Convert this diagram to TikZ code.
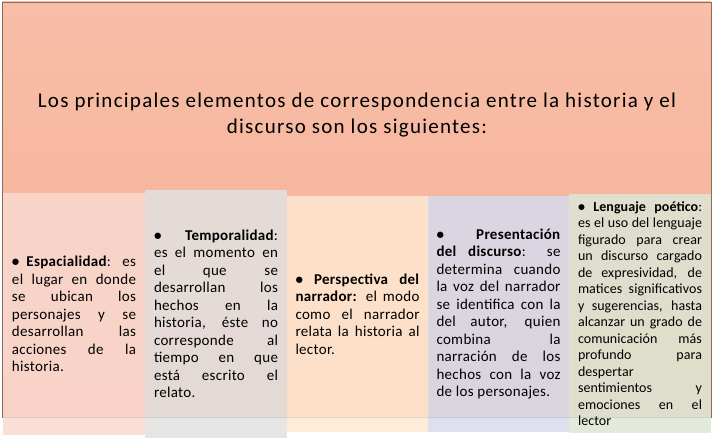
\documentclass[tikz,border=0pt]{standalone}
\usepackage{fontspec}
\setmainfont{Carlito}
\newfontfamily\titlefont[LetterSpace=6]{Carlito}
\newfontfamily\bodyfont[LetterSpace=2]{Carlito}
\newfontfamily\smallbodyfont[LetterSpace=0.5]{Carlito}
\definecolor{frametop}{HTML}{F8BEA8}
\definecolor{framebot}{HTML}{F5AF94}
\definecolor{frameline}{HTML}{8B6B5C}
\definecolor{boxA}{HTML}{F9D9D0}
\definecolor{boxB}{HTML}{E1E1E1}
\definecolor{boxC}{HTML}{FEE8D2}
\definecolor{boxD}{HTML}{D6DBEC}
\definecolor{boxE}{HTML}{DCE6D5}
\hbadness=10000

\begin{document}
\begin{tikzpicture}[x=1pt,y=-1pt]
\tikzset{
  frame/.style={draw=frameline,line width=0.9pt,top color=frametop,bottom color=framebot,
    minimum width=709pt,minimum height=415pt,inner sep=0pt},
  titletext/.style={align=center,font=\titlefont\fontsize{21}{26.5}\selectfont},
  colbox/.style={fill opacity=0.85,text opacity=1,inner xsep=9pt,inner ysep=0pt,
    text width=124pt,align=justify,font=\bodyfont\fontsize{15}{17.5}\selectfont}
}
\useasboundingbox (0,0) rectangle (713,438);
\node[frame] (n_frame) at (356.5,209.5) {};
\node[titletext] (n_title) at (357,115) {Los principales elementos de correspondencia entre la historia y el\\discurso son los siguientes:};
% the five columns
\node[colbox,fill=boxA,minimum height=242pt] (n_esp) at (74,314) {%
  \textbf{• Espacialidad}: es\linebreak el lugar en donde\linebreak se ubican los\linebreak personajes y se\linebreak
  desarrollan las\linebreak acciones de la\linebreak historia.};
\node[colbox,fill=boxB,minimum height=248pt] (n_tem) at (216,314) {%
  \textbf{• Temporalidad}:\linebreak es el momento en\linebreak el que se\linebreak desarrollan los\linebreak
  hechos en la\linebreak historia, éste no\linebreak corresponde al\linebreak tiempo en que\linebreak
  está escrito el\linebreak relato.};
\node[colbox,fill=boxC,minimum height=236pt] (n_per) at (357.5,314) {%
  \textbf{• Perspectiva del}\linebreak \textbf{narrador:} el modo\linebreak como el narrador\linebreak
  relata la historia al\linebreak lector.};
\node[colbox,fill=boxD,minimum height=236pt] (n_pre) at (498.5,314) {%
  \textbf{• Presentación}\linebreak \textbf{del discurso}: se\linebreak determina cuando\linebreak
  la voz del narrador\linebreak se identifica con la\linebreak del autor, quien\linebreak combina la\linebreak
  narración de los\linebreak hechos con la voz\linebreak de los personajes.};
\node[colbox,fill=boxE,minimum height=239pt,font=\smallbodyfont\fontsize{14}{16.5}\selectfont] (n_len) at (640,313.5) {%
  \textbf{• Lenguaje poético}:\linebreak es el uso del lenguaje\linebreak figurado para crear\linebreak
  un discurso cargado\linebreak de expresividad, de\linebreak matices significativos\linebreak
  y sugerencias, hasta\linebreak alcanzar un grado de\linebreak comunicación más\linebreak
  profundo para\linebreak despertar\newline sentimientos y\linebreak emociones en el\linebreak lector};
\end{tikzpicture}
\end{document}
